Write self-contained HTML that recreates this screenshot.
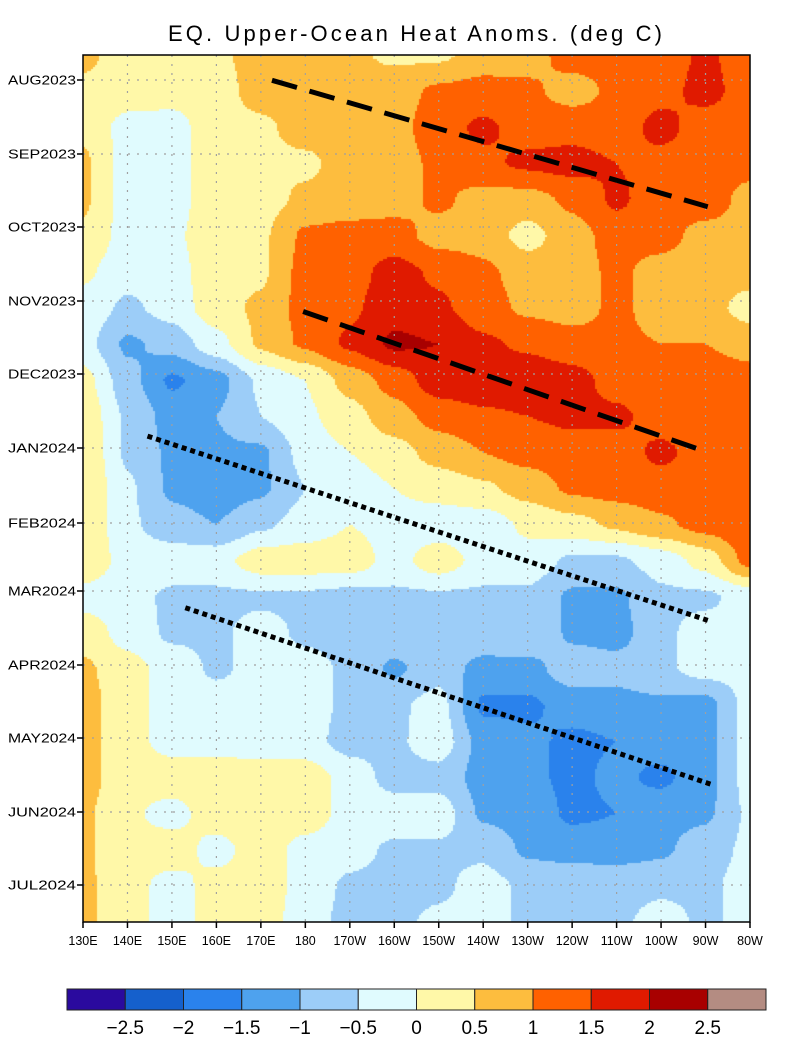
<!DOCTYPE html>
<html><head><meta charset="utf-8"><style>
body{margin:0;background:#fff;width:800px;height:1061px;overflow:hidden;font-family:"Liberation Sans",sans-serif}
#wrap{position:relative;width:800px;height:1061px}
canvas{position:absolute;left:83px;top:55px}
svg{position:absolute;left:0;top:0}
</style></head><body>
<div id="wrap">
<canvas id="field" width="667" height="867"></canvas>
<svg id="ov" width="800" height="1061"></svg>
</div>
<script>
const lonLabels=["130E","140E","150E","160E","170E","180","170W","160W","150W","140W","130W","120W","110W","100W","90W","80W"];
const monthLabels=["AUG2023","SEP2023","OCT2023","NOV2023","DEC2023","JAN2024","FEB2024","MAR2024","APR2024","MAY2024","JUN2024","JUL2024"];
const monthY=[80,154,227,301,374,448,523,591,665,738,812,885];
const levels=[-2.5,-2,-1.5,-1,-0.5,0,0.5,1,1.5,2,2.5];
const colors=["#2a0a9e","#1560cc","#2a82ec","#4ea2ee","#9ccdf8","#e0fbfe","#fff8a8","#fdbd3e","#ff6100","#e01a00","#a80000","#b48c82"];
const anom=[
[0.6,0.3,0.3,0.4,0.7,0.7,0.6,0.4,0.4,0.7,0.8,1.2,1.2,1.2,1.6,1.2],
[0.4,0.3,0.2,0.3,0.7,0.7,0.7,0.8,1.1,1.2,1.1,0.8,1.1,1.3,1.7,1.2],
[0.4,-0.2,-0.2,0.3,0.4,0.7,0.7,0.8,1.3,1.6,1.3,1.3,1.2,1.7,1.2,1.3],
[0.6,-0.2,-0.2,0.3,0.4,0.4,0.7,0.8,1.1,1.4,1.6,1.7,1.5,1.3,1.2,1.2],
[0.6,-0.2,-0.2,0.3,0.3,0.6,0.7,0.8,1.1,0.8,0.8,1.1,1.6,1.2,1.3,0.8],
[0.4,-0.2,-0.1,0.3,0.4,1.1,1.2,1.2,0.8,0.8,0.3,0.8,1.2,1.2,0.8,0.8],
[0.1,-0.3,-0.2,0.3,0.4,1.2,1.3,1.7,1.4,1.1,0.8,0.8,1.1,0.8,0.7,0.7],
[-0.2,-0.6,-0.3,0.3,0.6,1.2,1.4,1.8,1.6,1.2,0.9,0.8,1.1,0.8,0.7,0.3],
[-0.3,-1.1,-0.8,-0.2,0.6,1.1,1.6,2.1,2.0,1.6,1.4,1.2,1.1,1.0,1.0,0.8],
[0.2,-0.8,-1.6,-1.2,-0.4,0,0.7,1.2,1.8,1.9,1.9,1.7,1.3,1.2,1.3,1.2],
[0.4,-0.6,-1.2,-1.0,-0.5,-0.1,0.3,0.8,1.2,1.4,1.5,1.6,1.6,1.3,1.2,1.2],
[0.5,-0.6,-1.1,-1.1,-1.1,-0.3,0,0.3,0.7,1.0,1.2,1.3,1.3,1.6,1.3,1.2],
[0.5,-0.4,-1.1,-1.3,-1.1,-0.5,-0.3,0,0.2,0.4,0.7,1.1,1.2,1.3,1.3,1.3],
[0.5,-0.4,-0.8,-1.0,-0.6,-0.3,0,-0.2,-0.3,-0.3,0.1,0.3,0.6,0.9,1.2,1.4],
[0.4,-0.2,-0.2,-0.2,0.3,0.3,0.3,-0.2,0.3,-0.2,-0.2,-0.6,-0.6,-0.3,0.2,1.2],
[-0.2,-0.3,-0.6,-0.6,-0.6,-0.6,-0.7,-0.6,-0.6,-0.6,-0.6,-1.1,-1.1,-0.6,-0.6,-0.3],
[0.3,-0.2,-0.6,-0.6,-0.3,-0.6,-0.7,-0.7,-0.6,-0.6,-0.5,-1.1,-1.2,-0.6,-0.3,-0.3],
[0.6,0.2,-0.2,-0.6,-0.3,-0.3,-0.6,-1.1,-0.7,-1.2,-1.2,-0.7,-0.8,-0.6,-0.3,-0.3],
[0.7,0.2,-0.2,-0.2,-0.3,-0.3,-0.6,-0.6,-0.3,-1.6,-1.6,-1.3,-1.2,-1.1,-1.2,-0.3],
[0.7,0.2,-0.2,-0.2,-0.3,-0.3,-0.7,-0.6,-0.2,-1.2,-1.4,-1.6,-1.5,-1.3,-1.2,-0.3],
[0.7,0.2,0.3,0.3,0.3,0.3,-0.2,-0.7,-0.7,-1.2,-1.4,-1.6,-1.4,-1.6,-1.2,-0.3],
[0.6,0.1,-0.2,0.3,0.3,0.3,-0.2,-0.2,-0.2,-1.1,-1.2,-1.6,-1.5,-1.2,-1.1,-0.4],
[0.6,0.1,0.3,-0.2,0.3,-0.2,-0.3,-0.6,-0.6,-0.6,-1.1,-1.2,-1.2,-1.1,-0.7,-0.4],
[0.6,0.2,-0.2,0.2,0.3,-0.2,-0.6,-0.7,-0.6,-0.3,-0.6,-0.6,-0.7,-0.6,-0.6,-0.3],
[0.6,0.2,-0.2,0.2,0.2,-0.2,-0.7,-0.6,-0.4,-0.3,-0.6,-0.9,-0.6,-0.3,-0.6,-0.3]];
// reference trend lines in [lonIndex, rowIndex]
const dashLines=[[[4.25,0.7],[14.05,4.2]],[[4.95,7.1],[14.05,11.0]]];
const dotLines=[[[1.45,10.55],[14.05,15.65]],[[2.3,15.3],[14.15,20.2]]];

const X0=83,Y0=55,W=667,H=867;
const nC=lonLabels.length-1,nR=anom.length-1;
const xOf=i=>X0+i*W/nC, yOf=r=>Y0+r*H/nR;
function val(fx,fy){
  const i=Math.min(Math.floor(fx),nC-1),j=Math.min(Math.floor(fy),nR-1);
  const a=fx-i,b=fy-j;
  const s=t=>t*t*(3-2*t);
  const A=a*0.35+s(a)*0.65,B=b*0.35+s(b)*0.65;
  return anom[j][i]*(1-A)*(1-B)+anom[j][i+1]*A*(1-B)+anom[j+1][i]*(1-A)*B+anom[j+1][i+1]*A*B;
}
function colorOf(v){let k=0;while(k<levels.length&&v>=levels[k])k++;return colors[k];}
const ctx=document.getElementById('field').getContext('2d');
const step=2;
for(let py=0;py<H;py+=step){for(let px=0;px<W;px+=step){
  ctx.fillStyle=colorOf(val((px+1)/W*nC,(py+1)/H*nR));ctx.fillRect(px,py,step,step);
}}
const NS='http://www.w3.org/2000/svg';
const ov=document.getElementById('ov');
function mk(t,at,txt){const e=document.createElementNS(NS,t);for(const k in at)e.setAttribute(k,at[k]);if(txt!==undefined)e.textContent=txt;ov.appendChild(e);return e;}
lonLabels.forEach((l,i)=>{if(i>0&&i<nC){const g=mk('line',{x1:xOf(i),x2:xOf(i),y1:Y0,y2:Y0+H,stroke:'#a0a0a0','stroke-width':1.2,'stroke-dasharray':'2 7'});

}});
monthY.forEach(y=>{const g=mk('line',{x1:X0,x2:X0+W,y1:y,y2:y,stroke:'#a0a0a0','stroke-width':1.2,'stroke-dasharray':'2 7'});

});
dashLines.forEach(L=>{const e=mk('line',{x1:xOf(L[0][0]),y1:yOf(L[0][1]),x2:xOf(L[1][0]),y2:yOf(L[1][1]),stroke:'#000','stroke-width':5,'stroke-dasharray':'26 13'});

});
dotLines.forEach(L=>{const e=mk('line',{x1:xOf(L[0][0]),y1:yOf(L[0][1]),x2:xOf(L[1][0]),y2:yOf(L[1][1]),stroke:'#000','stroke-width':5,'stroke-dasharray':'5 4'});

});
const fr=mk('rect',{x:X0,y:Y0,width:W,height:H,fill:'none',stroke:'#000','stroke-width':1.5});


const tt=mk('text',{x:415,y:41,'text-anchor':'middle','font-size':22,'font-family':'Liberation Sans, sans-serif','textLength':494,lengthAdjust:'spacing'},'EQ. Upper-Ocean Heat Anoms. (deg C)');


monthLabels.forEach((m,i)=>{
  const tk=mk('line',{x1:X0-6,x2:X0,y1:monthY[i],y2:monthY[i],stroke:'#000','stroke-width':1.5});
  
  
  const t=mk('text',{x:76,y:monthY[i]+4.5,'text-anchor':'end','font-size':12.5,'font-family':'Liberation Sans, sans-serif','textLength':68,lengthAdjust:'spacingAndGlyphs'},m);
  
  
});
lonLabels.forEach((l,i)=>{
  const tk=mk('line',{x1:xOf(i),x2:xOf(i),y1:Y0+H,y2:Y0+H+6,stroke:'#000','stroke-width':1.5});
  
  
  const t=mk('text',{x:xOf(i),y:945,'text-anchor':'middle','font-size':12.5,'font-family':'Liberation Sans, sans-serif'},l);
  
  
});
const cbX=67,cbW=699/colors.length;
colors.forEach((c,k)=>{
  const r=mk('rect',{x:cbX+k*cbW,y:989,width:cbW,height:21,fill:c,stroke:'#222','stroke-width':1});
  
  
});
levels.forEach((v,k)=>{
  const t=mk('text',{x:cbX+(k+1)*cbW,y:1034,'text-anchor':'middle','font-size':19,'font-family':'Liberation Sans, sans-serif'},String(v).replace('-','\u2212'));
  
  
});
</script>
</body></html>
